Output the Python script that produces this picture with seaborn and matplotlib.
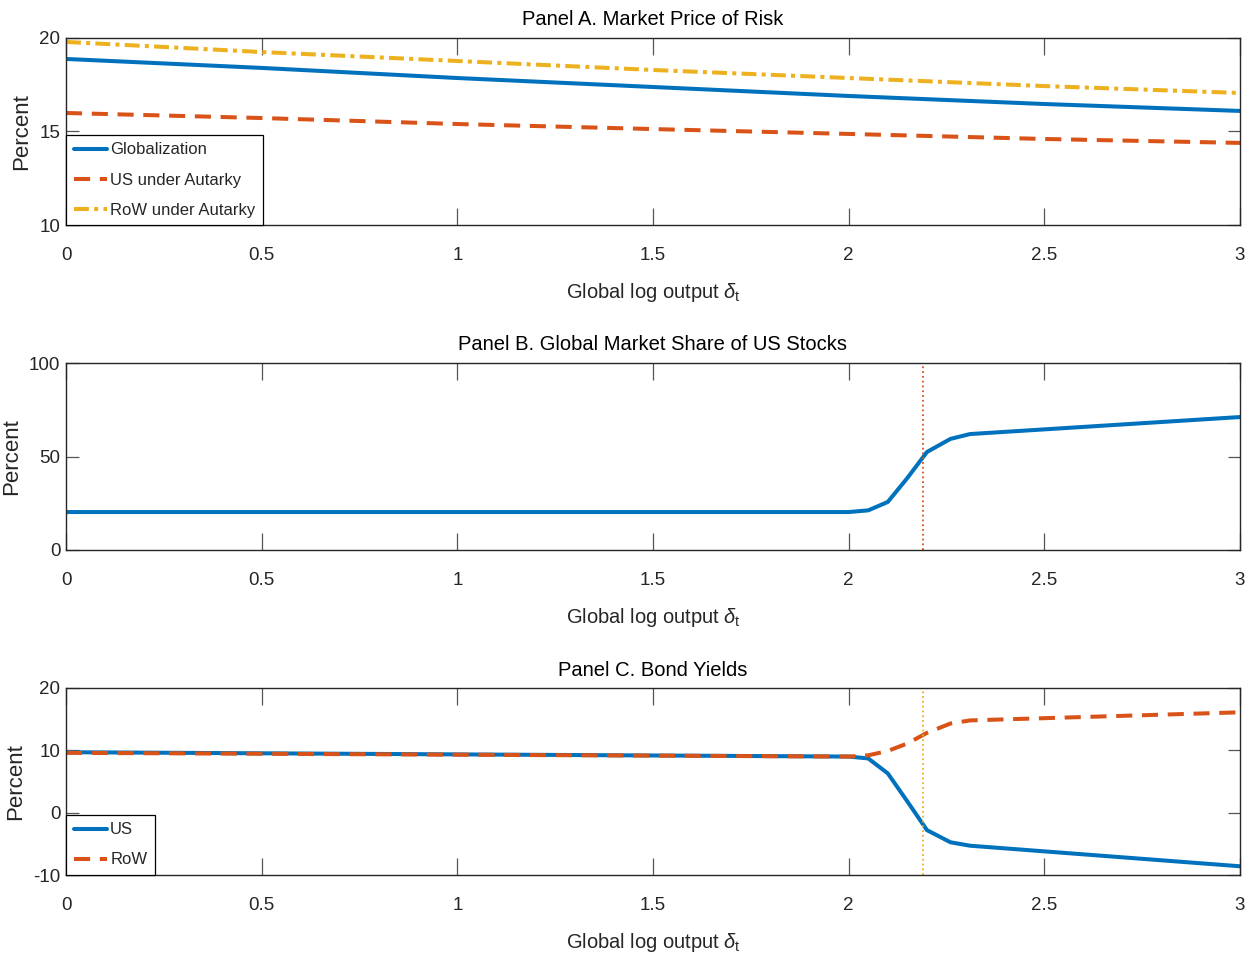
import numpy as np
import pandas as pd
import matplotlib
matplotlib.use("Agg")
import matplotlib.pyplot as plt
import seaborn as sns

# ---- data ----
xa = [0, 0.5, 1, 1.5, 2, 2.5, 3]
glob = [18.88, 18.40, 17.86, 17.38, 16.90, 16.47, 16.10]
us_aut = [15.99, 15.72, 15.40, 15.13, 14.87, 14.60, 14.39]
row_aut = [19.79, 19.25, 18.77, 18.29, 17.86, 17.43, 17.06]

xb = [0, 2.0, 2.05, 2.1, 2.15, 2.2, 2.26, 2.31, 3.0]
share_us = [20.3, 20.3, 21.2, 25.7, 38.5, 52.4, 59.4, 62.0, 71.1]

xc = [0, 2.0, 2.05, 2.1, 2.15, 2.2, 2.26, 2.31, 3.0]
yield_us = [9.7, 9.0, 8.7, 6.3, 1.8, -2.8, -4.75, -5.3, -8.6]
yield_row = [9.6, 9.0, 9.2, 9.9, 11.1, 12.8, 14.3, 14.8, 16.1]

vline_x = 2.19
xticks = [0, 0.5, 1, 1.5, 2, 2.5, 3]
xtick_labels = ["0", "0.5", "1", "1.5", "2", "2.5", "3"]

titles = ["Panel A. Market Price of Risk",
          "Panel B. Global Market Share of US Stocks",
          "Panel C. Bond Yields"]
xlabel = "Global log output $\\delta_{\\mathrm{t}}$"

# ---- style ----
sns.set_style("ticks")
FAM = ["Liberation Sans", "DejaVu Sans"]
plt.rcParams["font.family"] = FAM
plt.rcParams["mathtext.fontset"] = "custom"
plt.rcParams["mathtext.rm"] = "Liberation Sans"
plt.rcParams["mathtext.it"] = "Liberation Sans:italic"
plt.rcParams["mathtext.bf"] = "Liberation Sans:bold"

BLUE = "#0072BD"
ORANGE = "#D95319"
YELLOW = "#EDB120"
AXC = "#262626"
LW = 2.9
DASH = (0, (4, 2.4))
DASHDOT = (0, (3.7, 1.3, 1.0, 1.3))

fig = plt.figure(figsize=(12.6, 9.68), dpi=100)
left = 66 / 1260
width = (1240 - 66) / 1260
h = 187 / 968
bottoms = [1 - 225 / 968, 1 - 550 / 968, 1 - 875 / 968]
axes = [fig.add_axes([left, b, width, h]) for b in bottoms]


def style_ax(ax, ylim, yticks, title):
    ax.set_xlim(0, 3)
    ax.set_ylim(*ylim)
    ax.set_xticks(xticks)
    ax.set_xticklabels(xtick_labels)
    ax.set_yticks(yticks)
    ax.set_yticklabels([str(t) for t in yticks])
    for s in ax.spines.values():
        s.set_visible(True)
        s.set_color(AXC)
        s.set_linewidth(1.0)
    ax.tick_params(axis="x", direction="in", length=12, width=0.9, color="#555555",
                   top=True, bottom=True, labelsize=13.5, pad=16, labelcolor=AXC)
    ax.tick_params(axis="y", direction="in", length=9, width=0.9, color="#555555",
                   left=True, right=True, labelsize=13.5, pad=4, labelcolor=AXC)
    ax.set_title(title, fontsize=14.5, pad=9, color="black")
    ax.set_xlabel(xlabel, fontsize=14.5, labelpad=12, color=AXC)
    ax.set_ylabel("Percent", fontsize=16, labelpad=5, color=AXC)
    ax.grid(False)


# Panel A
ax = axes[0]
sns.lineplot(x=xa, y=glob, ax=ax, color=BLUE, lw=LW, label="Globalization")
sns.lineplot(x=xa, y=us_aut, ax=ax, color=ORANGE, lw=LW, linestyle=DASH,
             label="US under Autarky")
sns.lineplot(x=xa, y=row_aut, ax=ax, color=YELLOW, lw=LW, linestyle=DASHDOT,
             label="RoW under Autarky")
style_ax(ax, (10, 20), [10, 15, 20], titles[0])

# Panel B
ax = axes[1]
sns.lineplot(x=xb, y=share_us, ax=ax, color=BLUE, lw=LW, legend=False)
ax.axvline(vline_x, color=ORANGE, lw=1.3, linestyle=":")
style_ax(ax, (0, 100), [0, 50, 100], titles[1])

# Panel C
ax = axes[2]
sns.lineplot(x=xc, y=yield_us, ax=ax, color=BLUE, lw=LW, label="US")
sns.lineplot(x=xc, y=yield_row, ax=ax, color=ORANGE, lw=LW, linestyle=DASH,
             label="RoW")
ax.axvline(vline_x, color=YELLOW, lw=1.3, linestyle=":")
style_ax(ax, (-10, 20), [-10, 0, 10, 20], titles[2])

for ax in (axes[0], axes[2]):
    leg = ax.legend(loc="lower left", borderaxespad=0.0, fontsize=12,
                    frameon=True, fancybox=False, framealpha=1.0,
                    edgecolor="black", handlelength=2.0, handletextpad=0.2,
                    labelspacing=0.9, borderpad=0.45)
    leg.get_frame().set_linewidth(0.9)

fig.savefig("out.png", dpi=100)
